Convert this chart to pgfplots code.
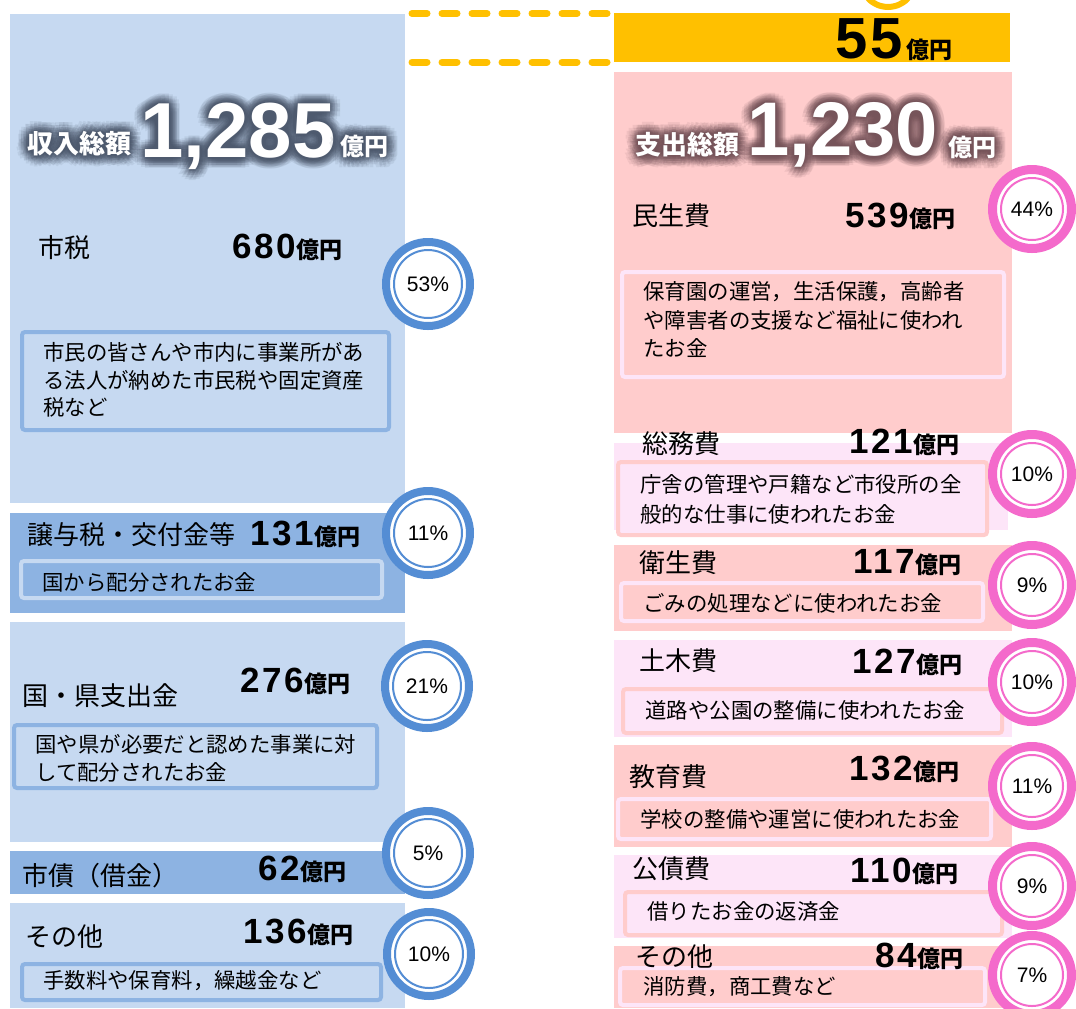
\documentclass[border=0pt]{standalone}
\usepackage{pgfplots}
\pgfplotsset{compat=1.18}
\usepackage{fontspec}
\setmainfont{Noto Sans CJK JP}
\newfontfamily\num{Liberation Sans}
\newfontfamily\numsp{Liberation Sans}[LetterSpace=8]
\definecolor{lblue}{RGB}{198,217,241}
\definecolor{dblue}{RGB}{141,179,226}
\definecolor{ringb}{RGB}{84,141,212}
\definecolor{salmon}{RGB}{255,204,204}
\definecolor{lav}{RGB}{253,229,248}
\definecolor{ringp}{RGB}{244,106,203}
\definecolor{gold}{RGB}{255,192,0}
\definecolor{glowL}{RGB}{78,90,110}
\definecolor{glowR}{RGB}{118,84,90}

% rectangle: style, x0, x1, y0, y1
\newcommand{\rect}[5]{\addplot[#1] coordinates {(#2,#4) (#3,#4) (#3,#5) (#2,#5)} -- cycle;}
\newcommand{\tit}[3]{\node[anchor=west,inner sep=0pt,font=\fontsize{13pt}{15pt}\selectfont] at (axis cs:#1,#2) {#3};}
\newcommand{\desc}[3]{\node[anchor=west,inner sep=0pt,font=\fontsize{10.7pt}{13pt}\selectfont] at (axis cs:#1,#2) {#3};}
\newcommand{\amt}[3]{\node[anchor=base west,inner sep=0pt] at (axis cs:#1,#2) {{\fontsize{17.5pt}{20pt}\numsp\bfseries #3}{\fontsize{11.5pt}{13pt}\rmfamily\bfseries 億円}};}
\newcommand{\glowtext}[4]{%
  \foreach \aa in {0,22.5,...,337.5}{\foreach \rr in {0.8,1.8,2.9,4.1,5.4}{%
    \node[anchor=#2,inner sep=0pt,text=#3,opacity=0.1] at ([shift={(\aa:\rr pt)}]#1) {#4};}}%
  \node[anchor=#2,inner sep=0pt,text=white] at (#1) {#4};}

\begin{document}
\begin{tikzpicture}
\begin{axis}[
  scale only axis, width=538pt, height=504pt,
  xmin=0, xmax=1076, ymin=0, ymax=1008, y dir=reverse,
  hide axis,
]
% ---------- revenue column ----------
\rect{fill=lblue,draw=none}{10}{405}{14}{503}
\rect{fill=dblue,draw=none}{10}{405}{513}{613}
\rect{fill=lblue,draw=none}{10}{405}{622}{842}
\rect{fill=dblue,draw=none}{10}{405}{851}{894}
\rect{fill=lblue,draw=none}{10}{405}{903}{1008}
\rect{fill=lblue,draw=dblue,line width=2pt,rounded corners=1.5pt}{22}{389}{332}{430}
\rect{fill=dblue,draw=lblue,line width=2pt,rounded corners=1.5pt}{21}{382}{561}{598}
\rect{fill=lblue,draw=dblue,line width=2pt,rounded corners=1.5pt}{14}{377}{725}{788}
\rect{fill=lblue,draw=dblue,line width=2pt,rounded corners=1.5pt}{22}{381}{964}{1000}
% ---------- expenditure column ----------
\rect{fill=gold,draw=none}{614}{1010}{13}{62}
\rect{fill=salmon,draw=none}{614}{1012}{72}{433}
\rect{fill=lav,draw=none}{614}{1008}{443}{530}
\rect{fill=salmon,draw=none}{614}{1012}{545}{631}
\rect{fill=lav,draw=none}{614}{1012}{640}{737}
\rect{fill=salmon,draw=none}{614}{1012}{745}{847}
\rect{fill=lav,draw=none}{614}{1012}{855}{938}
\rect{fill=salmon,draw=none}{614}{1012}{946}{1008}
\rect{fill=salmon,draw=lav,line width=2pt,rounded corners=1.5pt}{622}{1004}{272}{377}
\rect{fill=lav,draw=salmon,line width=2pt,rounded corners=1.5pt}{618}{987}{462}{535}
\rect{fill=salmon,draw=lav,line width=2pt,rounded corners=1.5pt}{621}{983}{583}{621}
\rect{fill=lav,draw=salmon,line width=2pt,rounded corners=1.5pt}{623}{1002}{689}{733}
\rect{fill=salmon,draw=lav,line width=2pt,rounded corners=1.5pt}{618}{991}{799}{839}
\rect{fill=lav,draw=salmon,line width=2pt,rounded corners=1.5pt}{625}{1002}{892}{935}
\rect{fill=salmon,draw=lav,line width=2pt,rounded corners=1.5pt}{620}{985}{968}{1005}
% dashed connector and arc
\addplot[gold,line width=3.5pt,line cap=round,dash pattern=on 7.5pt off 7.5pt] coordinates {(412,13.5) (612,13.5)};
\addplot[gold,line width=3.5pt,line cap=round,dash pattern=on 7.5pt off 7.5pt] coordinates {(412,62) (612,62)};
\addplot[gold,line width=3pt,smooth] coordinates {(911.4,-6.5) (905.4,0.7) (897.2,5.4) (888,7) (878.8,5.4) (870.6,0.7) (864.6,-6.5)};

% ---------- texts, revenue ----------
\tit{38}{248}{市税}
\amt{232}{258}{680}
\desc{43}{352}{市民の皆さんや市内に事業所があ}
\desc{43}{380}{る法人が納めた市民税や固定資産}
\desc{43}{407}{税など}
\tit{27}{535}{譲与税・交付金等}
\amt{250}{545}{131}
\desc{42}{582}{国から配分されたお金}
\tit{22}{696}{国・県支出金}
\amt{240}{692}{276}
\desc{35}{744}{国や県が必要だと認めた事業に対}
\desc{35}{772}{して配分されたお金}
\tit{22}{876}{市債（借金）}
\amt{258}{880}{62}
\tit{25}{937}{その他}
\amt{243}{943}{136}
\desc{43}{981}{手数料や保育料，繰越金など}
% ---------- texts, expenditure ----------
\node[anchor=base west,inner sep=0pt] at (axis cs:835,58) {{\fontsize{29pt}{30pt}\num\bfseries 5\kern1.5pt5\kern2pt}{\fontsize{11.5pt}{12pt}\rmfamily\bfseries 億円}};
\tit{632}{216}{民生費}
\amt{845}{227}{539}
\desc{643}{292}{保育園の運営，生活保護，高齢者}
\desc{643}{320}{や障害者の支援など福祉に使われ}
\desc{643}{348}{たお金}
\tit{642}{444}{総務費}
\amt{849}{453}{121}
\desc{640}{484}{庁舎の管理や戸籍など市役所の全}
\desc{640}{514}{般的な仕事に使われたお金}
\tit{639}{563}{衛生費}
\amt{853}{573}{117}
\desc{643}{603}{ごみの処理などに使われたお金}
\tit{639}{661}{土木費}
\amt{852}{673}{127}
\desc{645}{710}{道路や公園の整備に使われたお金}
\tit{629}{777}{教育費}
\amt{849}{780}{132}
\desc{640}{819}{学校の整備や運営に使われたお金}
\tit{632}{869}{公債費}
\amt{850}{882}{110}
\desc{647}{911}{借りたお金の返済金}
\tit{635}{957}{その他}
\amt{875}{967}{84}
\desc{643}{987}{消防費，商工費など}

% ---------- percentage circles ----------
\addplot[only marks, mark=*, mark size=21pt, mark options={fill=white,draw=ringb,line width=4pt},
  point meta=explicit symbolic, nodes near coords={\num\fontsize{10.5pt}{12pt}\selectfont\pgfplotspointmeta\%},
  nodes near coords style={anchor=center,text=black}]
  table[meta=p] {
x y p
428 284 53
428 533 11
427 686 21
428 853 5
429 954 10
};
\addplot[only marks, mark=o, mark size=17pt, mark options={draw=ringb,line width=1pt}]
  table {
x y
428 284
428 533
427 686
428 853
429 954
};
\addplot[only marks, mark=*, mark size=19.75pt, mark options={fill=white,draw=ringp,line width=4.5pt},
  point meta=explicit symbolic, nodes near coords={\num\fontsize{10.5pt}{12pt}\selectfont\pgfplotspointmeta\%},
  nodes near coords style={anchor=center,text=black}]
  table[meta=p] {
x y p
1032 209 44
1032 474 10
1032 585 9
1032 682 10
1032 786 11
1032 886 9
1032 975 7
};
\addplot[only marks, mark=o, mark size=15.5pt, mark options={draw=ringp,line width=1pt}]
  table {
x y
1032 209
1032 474
1032 585
1032 682
1032 786
1032 886
1032 975
};

\coordinate (gL1) at (axis cs:27,144);
\coordinate (gL2) at (axis cs:140,158);
\coordinate (gL3) at (axis cs:340,146);
\coordinate (gR1) at (axis cs:635,145);
\coordinate (gR2) at (axis cs:747,156);
\coordinate (gR3) at (axis cs:948,147);
\coordinate (BL) at (axis cs:0,1008);
\coordinate (TR) at (axis cs:1076,0);
\end{axis}
\glowtext{gL1}{west}{glowL}{\fontsize{13pt}{15pt}\selectfont\bfseries 収入総額}
\glowtext{gL2}{base west}{glowL}{\fontsize{39pt}{40pt}\num\bfseries 1,285}
\glowtext{gL3}{west}{glowL}{\fontsize{12pt}{14pt}\selectfont\bfseries 億円}
\glowtext{gR1}{west}{glowR}{\fontsize{13pt}{15pt}\selectfont\bfseries 支出総額}
\glowtext{gR2}{base west}{glowR}{\fontsize{38pt}{40pt}\num\bfseries 1,230}
\glowtext{gR3}{west}{glowR}{\fontsize{12pt}{14pt}\selectfont\bfseries 億円}
\pgfresetboundingbox
\useasboundingbox (BL) rectangle (TR);
\end{tikzpicture}
\end{document}
